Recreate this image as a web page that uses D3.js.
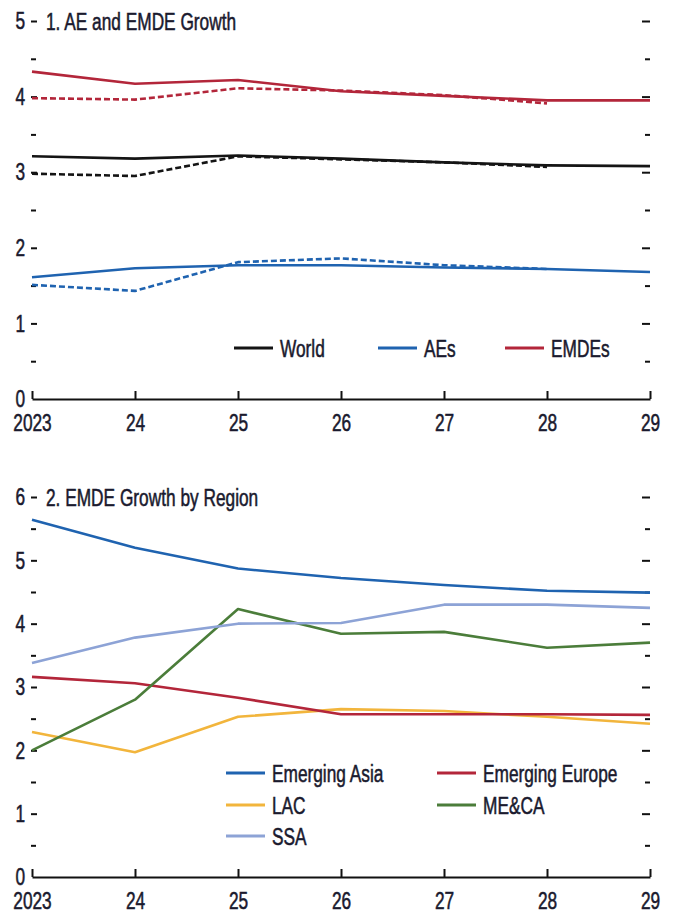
<!DOCTYPE html>
<html><head><meta charset="utf-8">
<script src="https://cdn.jsdelivr.net/npm/d3@7"></script>
<style>
body{margin:0;background:#fff;}
text{font-family:"Liberation Sans",Arial,sans-serif;fill:#1a1a2e;stroke:#1a1a2e;stroke-width:0.55px;}
</style></head>
<body><svg id="c" width="673" height="915"></svg>
<script>
const years = [2023, 2024, 2025, 2026, 2027, 2028, 2029];
const yearsPrev = [2023, 2024, 2025, 2026, 2027, 2028];

// Panel 1: AE and EMDE Growth (solid = current, dashed = previous)
const worldCur = [3.21, 3.18, 3.22, 3.18, 3.13, 3.09, 3.08];
const worldPrev = [2.98, 2.95, 3.21, 3.17, 3.13, 3.07];
const aesCur = [1.61, 1.73, 1.77, 1.77, 1.74, 1.72, 1.68];
const aesPrev = [1.51, 1.43, 1.81, 1.86, 1.77, 1.72];
const emdesCur = [4.33, 4.17, 4.22, 4.07, 4.01, 3.95, 3.95];
const emdesPrev = [3.98, 3.96, 4.11, 4.08, 4.02, 3.91];

// Panel 2: EMDE Growth by Region
const emAsia = [5.64, 5.20, 4.87, 4.72, 4.61, 4.52, 4.49];
const emEurope = [3.16, 3.06, 2.83, 2.57, 2.57, 2.57, 2.56];
const lac = [2.29, 1.97, 2.53, 2.65, 2.62, 2.53, 2.42];
const meca = [2.00, 2.80, 4.23, 3.84, 3.87, 3.62, 3.70];
const ssa = [3.38, 3.78, 4.00, 4.01, 4.30, 4.30, 4.25];

const title1 = "1. AE and EMDE Growth";
const title2 = "2. EMDE Growth by Region";
const legend1 = ["World", "AEs", "EMDEs"];
const legend2 = ["Emerging Asia", "Emerging Europe", "LAC", "ME&CA", "SSA"];

const C = {black:"#141414", blue:"#1f63b0", red:"#b3263a", yellow:"#f2b53c", green:"#4b7d3a", lblue:"#8da3d6"};

const svg = d3.select("#c");
const x = d3.scaleLinear().domain([2023, 2029]).range([32, 650]);
const FS = 24;
const SX = 0.72;

function narrow(sel) {
  sel.each(function() {
    const t = d3.select(this);
    const xx = +(t.attr("x") || 0);
    t.attr("x", xx / SX).attr("transform", `scale(${SX},1)`);
  });
}

function panel(g, y, ymax, title) {
  const ints = d3.range(0, ymax + 1);
  const halves = d3.range(0.5, ymax, 1);
  const la = g.append("g").attr("transform", "translate(31,0)")
    .call(d3.axisLeft(y).tickValues(ints).tickSize(-6).tickPadding(6).tickFormat(d3.format("d")));
  la.select(".domain").remove();
  la.selectAll("line").attr("stroke", "#111").attr("stroke-width", 2);
  la.selectAll("text").style("font-size", FS + "px").attr("fill", "#1a1a2e").call(narrow);
  la.selectAll(".tick").filter(d => d === 0).select("line").remove();
  const lm = g.append("g").attr("transform", "translate(31,0)")
    .call(d3.axisLeft(y).tickValues(halves).tickSize(-5).tickFormat(""));
  lm.select(".domain").remove();
  lm.selectAll("line").attr("stroke", "#111").attr("stroke-width", 2);
  const ra = g.append("g").attr("transform", "translate(650,0)")
    .call(d3.axisRight(y).tickValues(ints.filter(d => d > 0)).tickSize(-8).tickFormat(""));
  ra.select(".domain").remove();
  ra.selectAll("line").attr("stroke", "#111").attr("stroke-width", 2);
  const rm = g.append("g").attr("transform", "translate(650,0)")
    .call(d3.axisRight(y).tickValues(halves).tickSize(-5).tickFormat(""));
  rm.select(".domain").remove();
  rm.selectAll("line").attr("stroke", "#111").attr("stroke-width", 2);
  const xa = g.append("g").attr("transform", `translate(0,${y(0)})`)
    .call(d3.axisBottom(x).tickValues(years).tickSize(-8).tickSizeOuter(0).tickPadding(15)
      .tickFormat(d => d === 2023 ? "2023" : String(d).slice(2)));
  xa.select(".domain").attr("stroke", "#111").attr("stroke-width", 2.2);
  xa.selectAll("line").attr("stroke", "#111").attr("stroke-width", 2);
  xa.selectAll("text").style("font-size", FS + "px").attr("fill", "#1a1a2e").call(narrow);
  g.append("text").attr("x", 46).attr("y", y(ymax)).attr("dy", "0.36em")
    .style("font-size", FS + "px").text(title).call(narrow);
}

function line(g, y, xs, vals, color, dashed) {
  const l = d3.line().x((d, i) => x(xs[i])).y(d => y(d));
  g.append("path").attr("d", l(vals)).attr("fill", "none").attr("stroke", color)
    .attr("stroke-width", 2.6).attr("stroke-dasharray", dashed ? "6,3" : null)
    .attr("stroke-linejoin", "round");
}

function legendItem(g, lx, ly, color, label) {
  g.append("line").attr("x1", lx).attr("x2", lx + 39).attr("y1", ly).attr("y2", ly)
    .attr("stroke", color).attr("stroke-width", 3.2);
  g.append("text").attr("x", lx + 46).attr("y", ly).attr("dy", "0.36em")
    .style("font-size", FS + "px").text(label).call(narrow);
}

// Panel 1
const y1 = d3.scaleLinear().domain([0, 5]).range([399, 21]);
const g1 = svg.append("g");
panel(g1, y1, 5, title1);
line(g1, y1, years, emdesCur, C.red, false);
line(g1, y1, years, worldCur, C.black, false);
line(g1, y1, years, aesCur, C.blue, false);
line(g1, y1, yearsPrev, emdesPrev, C.red, true);
line(g1, y1, yearsPrev, worldPrev, C.black, true);
line(g1, y1, yearsPrev, aesPrev, C.blue, true);
legendItem(g1, 234, 348, C.black, legend1[0]);
legendItem(g1, 378, 348, C.blue, legend1[1]);
legendItem(g1, 505, 348, C.red, legend1[2]);

// Panel 2
const y2 = d3.scaleLinear().domain([0, 6]).range([877, 497]);
const g2 = svg.append("g");
panel(g2, y2, 6, title2);
line(g2, y2, years, lac, C.yellow, false);
line(g2, y2, years, emEurope, C.red, false);
line(g2, y2, years, meca, C.green, false);
line(g2, y2, years, ssa, C.lblue, false);
line(g2, y2, years, emAsia, C.blue, false);
legendItem(g2, 226, 773, C.blue, legend2[0]);
legendItem(g2, 437, 773, C.red, legend2[1]);
legendItem(g2, 226, 805, C.yellow, legend2[2]);
legendItem(g2, 437, 805, C.green, legend2[3]);
legendItem(g2, 226, 836, C.lblue, legend2[4]);
</script></body></html>
